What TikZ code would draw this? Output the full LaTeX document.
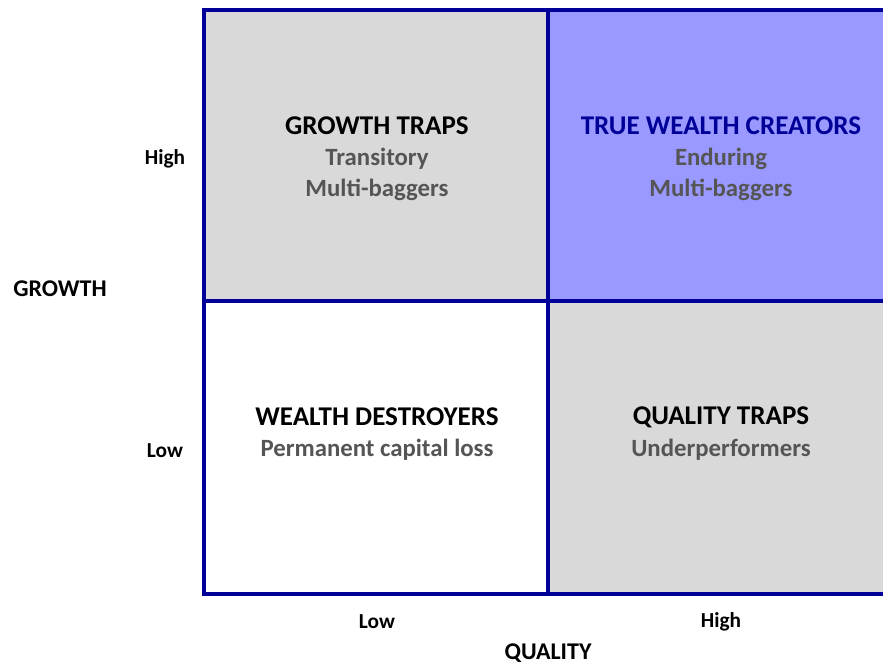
\documentclass[tikz,border=0pt]{standalone}
\usepackage{fontspec}
\setmainfont{Carlito}
\usepackage{xcolor}
\definecolor{gridblue}{HTML}{000099}
\definecolor{cellgray}{HTML}{D9D9D9}
\definecolor{cellblue}{HTML}{9999FF}
\definecolor{subgray}{HTML}{555555}
\tikzset{
  cell title/.style={font=\bfseries\fontsize{20.3}{24}\selectfont, align=center},
  cell sub/.style={font=\bfseries\fontsize{18.6}{22}\selectfont, text=subgray, align=center},
  axis tick/.style={font=\bfseries\fontsize{16}{19}\selectfont},
  axis name/.style={font=\bfseries\fontsize{18}{21}\selectfont}
}
\begin{document}
\begin{tikzpicture}[x=0.75pt,y=-0.75pt]
    \useasboundingbox (0,0) rectangle (883,664);

    % Quadrant fills
    \fill[cellgray] (204,10) rectangle (548,301);
    \fill[cellblue] (548,10) rectangle (883,301);
    \fill[white] (204,301) rectangle (548,594);
    \fill[cellgray] (548,301) rectangle (883,594);

    % Grid lines
    \draw[gridblue, line width=2.6pt] (883,10) -- (204,10) -- (204,594) -- (883,594);
    \draw[gridblue, line width=2.6pt] (548,10) -- (548,594);
    \draw[gridblue, line width=2.6pt] (204,301) -- (883,301);

    % Growth traps
    \node[cell title] (gt) at (377,126) {GROWTH TRAPS};
    \node[cell sub] (gt1) at (377,159) {Transitory};
    \node[cell sub] (gt2) at (377,190) {Multi-baggers};

    % True wealth creators
    \node[cell title, text=gridblue] (twc) at (721,126) {TRUE WEALTH CREATORS};
    \node[cell sub] (twc1) at (721,159) {Enduring};
    \node[cell sub] (twc2) at (721,190) {Multi-baggers};

    % Wealth destroyers
    \node[cell title] (wd) at (377,417) {WEALTH DESTROYERS};
    \node[cell sub] (wd1) at (377,450) {Permanent capital loss};

    % Quality traps
    \node[cell title] (qt) at (721,417) {QUALITY TRAPS};
    \node[cell sub] (qt1) at (721,450) {Underperformers};

    % Axis labels
    \node[axis tick] (ghigh) at (165,159) {High};
    \node[axis tick] (glow) at (165,451) {Low};
    \node[axis name] (growth) at (60,289) {GROWTH};
    \node[axis tick] (qlow) at (377,622) {Low};
    \node[axis tick] (qhigh) at (721,622) {High};
    \node[axis name] (quality) at (548,653) {QUALITY};

\end{tikzpicture}
\end{document}
